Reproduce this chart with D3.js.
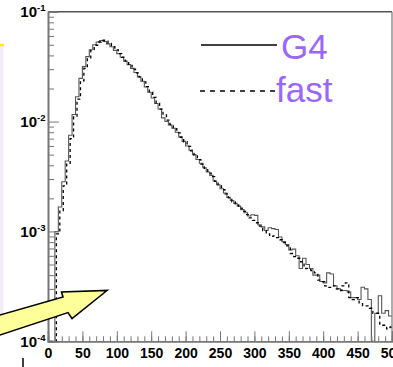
<!DOCTYPE html>
<html>
<head>
<meta charset="utf-8">
<script src="https://cdn.jsdelivr.net/npm/d3@7"></script>
<style>
  html, body { margin: 0; padding: 0; background: #fff; }
  svg { display: block; }
</style>
</head>
<body>
<svg id="chart" width="393" height="367"></svg>
<script>
// Histogram binning: 100 bins of width 5 from 0 to 500
const binStart = 0;
const binWidth = 5;

// Normalised bin contents, full simulation (G4)
const g4Values = [
  0, 0, 1.0e-3, 1.67e-3, 2.83e-3, 4.37e-3, 7.5e-3, 1.16e-2, 1.68e-2, 2.47e-2,
  3.16e-2, 3.9e-2, 4.5e-2, 5.0e-2, 5.3e-2, 5.45e-2, 5.35e-2, 5.1e-2, 4.8e-2, 4.45e-2,
  4.15e-2, 3.85e-2, 3.55e-2, 3.3e-2, 3.05e-2, 2.8e-2, 2.55e-2, 2.33e-2, 2.07e-2, 1.85e-2,
  1.64e-2, 1.46e-2, 1.30e-2, 1.08e-2, 1.00e-2, 9.3e-3, 8.7e-3, 8.0e-3, 7.25e-3, 6.6e-3,
  6.0e-3, 5.5e-3, 5.0e-3, 4.52e-3, 4.17e-3, 3.8e-3, 3.47e-3, 3.24e-3, 2.88e-3, 2.66e-3,
  2.45e-3, 2.24e-3, 2.04e-3, 1.91e-3, 1.80e-3, 1.70e-3, 1.58e-3, 1.48e-3, 1.38e-3, 1.42e-3,
  1.40e-3, 1.15e-3, 1.10e-3, 1.02e-3, 1.08e-3, 1.06e-3, 1.04e-3, 8.9e-4, 8.1e-4, 7.6e-4,
  6.8e-4, 6.9e-4, 6.0e-4, 4.6e-4, 5.7e-4, 5.0e-4, 4.6e-4, 4.0e-4, 4.0e-4, 3.5e-4,
  3.4e-4, 4.2e-4, 4.1e-4, 3.2e-4, 3.0e-4, 2.9e-4, 2.9e-4, 2.8e-4, 2.5e-4, 2.5e-4,
  2.4e-4, 3.1e-4, 3.0e-4, 2.4e-4, 0, 1.8e-4, 2.6e-4, 1.8e-4, 1.9e-4, 1.7e-4
];

// Normalised bin contents, fast simulation
const fastValues = [
  0, 0, 9.5e-4, 1.55e-3, 2.6e-3, 4.1e-3, 7.0e-3, 1.1e-2, 1.6e-2, 2.35e-2,
  3.05e-2, 3.8e-2, 4.45e-2, 4.95e-2, 5.3e-2, 5.5e-2, 5.4e-2, 5.15e-2, 4.8e-2, 4.5e-2,
  4.15e-2, 3.85e-2, 3.55e-2, 3.25e-2, 3.0e-2, 2.78e-2, 2.55e-2, 2.3e-2, 2.08e-2, 1.86e-2,
  1.66e-2, 1.47e-2, 1.3e-2, 1.15e-2, 1.03e-2, 9.4e-3, 8.6e-3, 7.9e-3, 7.2e-3, 6.55e-3,
  5.95e-3, 5.4e-3, 4.95e-3, 4.5e-3, 4.1e-3, 3.75e-3, 3.4e-3, 3.15e-3, 2.85e-3, 2.6e-3,
  2.4e-3, 2.2e-3, 2.02e-3, 1.86e-3, 1.74e-3, 1.63e-3, 1.52e-3, 1.42e-3, 1.33e-3, 1.26e-3,
  1.2e-3, 1.12e-3, 1.02e-3, 9.5e-4, 9.0e-4, 9.1e-4, 8.8e-4, 8.4e-4, 7.9e-4, 7.4e-4,
  6.3e-4, 5.9e-4, 5.7e-4, 5.3e-4, 4.6e-4, 4.5e-4, 4.4e-4, 4.2e-4, 3.6e-4, 3.5e-4,
  3.2e-4, 3.1e-4, 3.2e-4, 3.0e-4, 2.9e-4, 3.2e-4, 3.4e-4, 2.5e-4, 2.4e-4, 2.5e-4,
  2.2e-4, 2.1e-4, 2.1e-4, 2.0e-4, 1.8e-4, 1.8e-4, 1.4e-4, 1.4e-4, 1.3e-4, 1.35e-4
];

// Axis ticks and labels
const xTickLabels = [0, 50, 100, 150, 200, 250, 300, 350, 400, 450, 500];
const xMinorStep = 10;
const yDecadeExponents = [-1, -2, -3, -4];
const seriesNames = ["G4", "fast"];

const svg = d3.select("#chart");

// Slide decoration behind the plot
svg.append("rect").attr("x", 0).attr("y", 46).attr("width", 3.5).attr("height", 284)
  .attr("fill", "#f3eef6");
svg.append("line").attr("x1", 0).attr("x2", 4).attr("y1", 45).attr("y2", 45)
  .attr("stroke", "#ffee00").attr("stroke-width", 2.5);

const x = d3.scaleLinear().domain([0, 500]).range([48, 392]);
const y = d3.scaleLog().domain([1e-4, 1e-1]).range([341.3, 11.7]);
const yMin = y.domain()[0];

// Clip for the histograms
svg.append("defs").append("clipPath").attr("id", "plotClip")
  .append("rect").attr("x", x(0)).attr("y", y(1e-1))
  .attr("width", x(500) - x(0)).attr("height", y(1e-4) - y(1e-1));

// Step-line histogram built from bin contents
function stepPoints(values) {
  const pts = values.map((v, i) => [binStart + i * binWidth, Math.max(v, yMin)]);
  const last = values[values.length - 1];
  pts.push([binStart + values.length * binWidth, Math.max(last, yMin)]);
  return pts;
}
const stepLine = d3.line()
  .x(d => x(d[0]))
  .y(d => y(d[1]))
  .curve(d3.curveStepAfter);

const plot = svg.append("g").attr("clip-path", "url(#plotClip)");

plot.append("path")
  .attr("d", stepLine(stepPoints(g4Values)))
  .attr("fill", "none").attr("stroke", "#555").attr("stroke-width", 1.1);

plot.append("path")
  .attr("transform", "translate(1.5,0)")
  .attr("d", stepLine(stepPoints(fastValues)))
  .attr("fill", "none").attr("stroke", "#000").attr("stroke-width", 1.3)
  .attr("stroke-dasharray", "3,3");

// Frame
const frame = svg.append("g").attr("fill", "none");
frame.append("line").attr("x1", x(0)).attr("x2", x(500)).attr("y1", y(1e-1)).attr("y2", y(1e-1))
  .attr("stroke", "#555").attr("stroke-width", 1.6);
frame.append("line").attr("x1", x(500)).attr("x2", x(500)).attr("y1", y(1e-1)).attr("y2", y(1e-4))
  .attr("stroke", "#777").attr("stroke-width", 1.2);

// X axis: minor ticks every 10, labelled major ticks every 50, pointing up
const xMinor = svg.append("g").attr("transform", `translate(0,${y(1e-4)})`)
  .call(d3.axisBottom(x).tickValues(d3.range(0, 501, xMinorStep)).tickSize(-5).tickFormat(""));
const xMajor = svg.append("g").attr("transform", `translate(0,${y(1e-4)})`)
  .call(d3.axisBottom(x).tickValues(xTickLabels).tickSize(-10).tickPadding(5).tickFormat(d3.format("d")));
[xMinor, xMajor].forEach(g => {
  g.select(".domain").attr("stroke", "#777").attr("stroke-width", 1.5);
  g.selectAll(".tick line").attr("stroke", "#777").attr("stroke-width", 1);
});
xMajor.selectAll(".tick text")
  .attr("fill", "#000")
  .attr("font-family", "'Liberation Sans', Arial, sans-serif")
  .attr("font-weight", "bold")
  .attr("font-size", 14)
  .attr("dy", "0.85em");

// Y axis: log ticks pointing right
const yMinorValues = [];
yDecadeExponents.forEach(e => {
  if (e === -1) return;
  for (let m = 2; m <= 9; m++) yMinorValues.push(m * Math.pow(10, e));
});
const yMinor = svg.append("g").attr("transform", `translate(${x(0)},0)`)
  .call(d3.axisLeft(y).tickValues(yMinorValues).tickSize(-6).tickFormat(""));
const yMajor = svg.append("g").attr("transform", `translate(${x(0)},0)`)
  .call(d3.axisLeft(y).tickValues(yDecadeExponents.map(e => Math.pow(10, e))).tickSize(-11).tickFormat(""));
[yMinor, yMajor].forEach(g => {
  g.select(".domain").attr("stroke", "#777").attr("stroke-width", 1.6);
  g.selectAll(".tick line").attr("stroke", "#777").attr("stroke-width", 1);
});

// Decade labels as 10 with a superscript exponent
const yLabels = svg.append("g")
  .attr("font-family", "'Liberation Sans', Arial, sans-serif")
  .attr("font-weight", "bold")
  .attr("fill", "#000");
yDecadeExponents.forEach(e => {
  const yy = y(Math.pow(10, e));
  const t = yLabels.append("text").attr("x", 37).attr("y", yy + 5.5)
    .attr("text-anchor", "end").attr("font-size", 15);
  t.text("10");
  yLabels.append("text").attr("x", 37).attr("y", yy - 0.5)
    .attr("font-size", 9.5).text(String(e));
});

// Legend
const legendColor = "#9966ff";
const legend = svg.append("g");
const legendRows = [
  { name: seriesNames[0], y: 45, dash: null, x1: 201, x2: 277, textX: 281, textY: 59 },
  { name: seriesNames[1], y: 91, dash: "5,5", x1: 200, x2: 276, textX: 276, textY: 102 }
];
legendRows.forEach(r => {
  legend.append("line").attr("x1", r.x1).attr("x2", r.x2).attr("y1", r.y).attr("y2", r.y)
    .attr("stroke", "#000").attr("stroke-width", 1.6)
    .attr("stroke-dasharray", r.dash);
  legend.append("text").attr("x", r.textX).attr("y", r.textY)
    .attr("font-family", "'Liberation Sans', Arial, sans-serif")
    .attr("font-size", 35).attr("fill", legendColor).text(r.name);
});

// Callout arrow pointing into the low-energy region
svg.append("path")
  .attr("d", "M-6,316.7 L63,297 L61.5,292 L107,290.5 L72,318.5 L68,312.6 L-6,337")
  .attr("fill", "#ffff99").attr("stroke", "#000").attr("stroke-width", 1.6)
  .attr("stroke-linejoin", "miter");

// Small mark below the axis
svg.append("line").attr("x1", 23).attr("x2", 23).attr("y1", 358).attr("y2", 367)
  .attr("stroke", "#000").attr("stroke-width", 1.5);
</script>
</body>
</html>
